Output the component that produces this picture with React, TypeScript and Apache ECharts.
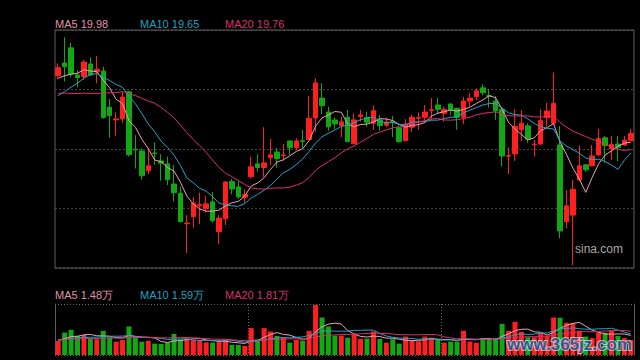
import React, { useEffect, useRef } from "react";
import * as echarts from "echarts";

// Daily candles: [open, close, low, high]
const ohlc: number[][] = [
  [21.92, 22.16, 21.81, 22.29], [22.30, 22.19, 21.74, 23.08], [22.76, 21.97, 21.87, 22.92],
  [21.94, 21.86, 21.57, 22.09], [21.89, 22.33, 21.79, 22.39], [22.27, 21.94, 21.91, 22.47],
  [22.03, 22.11, 21.69, 22.51], [22.06, 20.65, 20.62, 22.19], [20.96, 20.71, 20.04, 21.21],
  [20.58, 20.61, 20.10, 20.81], [20.61, 21.27, 20.49, 21.42], [21.43, 19.53, 19.47, 21.46],
  [19.69, 19.67, 19.11, 20.12], [19.64, 18.89, 18.77, 19.72], [19.04, 19.19, 18.94, 19.72],
  [19.58, 19.56, 19.22, 19.90], [19.34, 19.27, 18.74, 19.54], [19.25, 18.77, 18.61, 19.47],
  [18.64, 18.38, 18.11, 19.22], [18.36, 17.50, 17.48, 18.56], [17.44, 17.46, 16.55, 17.70],
  [17.65, 18.06, 17.32, 18.24], [17.98, 18.02, 17.43, 18.38], [17.89, 18.04, 17.79, 18.28],
  [18.10, 17.53, 17.47, 18.40], [17.20, 17.61, 16.83, 17.70], [17.59, 18.70, 17.40, 18.73],
  [18.72, 18.49, 18.33, 18.79], [18.55, 18.25, 18.19, 18.73], [18.24, 18.32, 18.06, 18.48],
  [18.86, 19.16, 18.81, 19.47], [19.25, 19.14, 19.01, 19.54], [19.14, 19.28, 18.86, 20.36],
  [19.44, 19.52, 19.22, 20.01], [19.61, 19.41, 19.13, 19.73], [19.50, 19.52, 19.35, 19.85],
  [19.94, 19.74, 19.52, 19.96], [19.74, 19.94, 19.67, 20.02], [19.95, 19.93, 19.72, 20.28],
  [19.99, 20.63, 19.97, 21.31], [20.64, 21.70, 20.22, 21.84], [21.24, 21.01, 20.76, 21.69],
  [20.82, 20.37, 20.25, 20.98], [20.58, 20.46, 20.30, 20.66], [20.41, 20.52, 20.06, 20.68],
  [20.66, 19.92, 19.91, 20.88], [19.86, 20.58, 19.85, 20.78], [20.68, 20.73, 20.53, 20.88],
  [20.65, 20.51, 20.38, 20.83], [20.48, 20.86, 20.28, 21.02], [20.58, 20.41, 20.25, 20.73],
  [20.42, 20.52, 20.36, 20.66], [20.53, 20.51, 20.06, 20.70], [20.34, 19.92, 19.89, 20.43],
  [19.95, 20.45, 19.94, 20.60], [20.36, 20.66, 20.21, 20.73], [20.63, 20.65, 20.28, 20.81],
  [20.66, 20.82, 20.53, 21.03], [20.87, 20.89, 20.58, 21.24], [21.03, 20.90, 20.76, 21.24],
  [20.78, 20.90, 20.53, 20.98], [21.06, 20.88, 20.73, 21.08], [20.93, 20.66, 20.28, 20.95],
  [20.66, 21.15, 20.45, 21.28], [21.15, 21.24, 20.98, 21.39], [21.28, 21.46, 21.18, 21.54],
  [21.55, 21.40, 21.33, 21.66], [21.31, 21.30, 20.95, 21.52], [21.15, 20.85, 20.58, 21.30],
  [20.90, 19.49, 19.17, 20.98], [19.48, 19.50, 18.94, 19.75], [19.55, 20.38, 19.34, 20.90],
  [20.28, 20.48, 19.94, 20.88], [20.40, 20.00, 19.89, 20.48], [19.83, 19.85, 19.47, 19.97],
  [19.85, 20.56, 19.84, 20.90], [20.65, 20.85, 20.38, 21.10], [20.48, 21.08, 20.47, 22.02],
  [19.82, 17.22, 17.00, 20.40], [17.50, 17.98, 17.30, 18.46], [17.70, 18.48, 16.19, 18.76],
  [18.76, 19.19, 18.75, 19.80], [19.22, 19.07, 19.01, 19.23], [19.19, 19.49, 19.17, 19.82],
  [19.52, 20.02, 19.50, 20.31], [20.04, 19.80, 19.29, 20.09], [19.70, 19.84, 19.37, 20.09],
  [19.85, 19.75, 19.32, 20.09], [19.82, 19.97, 19.79, 20.09], [19.95, 20.17, 19.94, 20.31],
];

// Volume, in 万 shares
const volumes: number[] = [
  1.06, 1.69, 1.90, 1.44, 1.52, 1.21, 1.19, 1.82, 1.34, 1.01,
  1.14, 2.15, 1.34, 1.01, 1.06, 0.86, 0.83, 0.96, 1.59, 1.19,
  1.24, 1.14, 1.14, 0.96, 0.93, 1.01, 1.14, 0.76, 0.76, 0.68,
  2.03, 1.19, 2.03, 1.77, 1.44, 1.34, 0.93, 1.14, 1.09, 1.82,
  3.77, 2.83, 2.15, 1.46, 1.46, 1.31, 1.57, 1.21, 1.24, 1.77,
  1.21, 0.93, 1.19, 0.86, 1.39, 1.06, 1.04, 1.39, 1.31, 1.19,
  0.93, 1.01, 1.01, 1.82, 1.01, 0.93, 1.29, 1.19, 1.29, 2.35,
  1.82, 2.50, 1.75, 1.34, 1.34, 1.65, 1.44, 2.83, 2.81, 2.43,
  2.41, 1.84, 1.39, 1.27, 1.69, 1.69, 1.84, 1.44, 1.27, 1.14,
];

// Sessions before the visible window (estimated from where the MA lines start)
const priorCloses: number[] = [
  22.09, 22.15, 22.03, 21.94, 22.21, 22.03, 20.58, 20.46, 20.52, 20.58,
  20.97, 20.62, 20.64, 20.79, 20.91, 21.80, 21.76, 21.71, 21.78,
];
const priorVolumes: number[] = [
  1.2, 1.0, 1.3, 1.1, 0.9, 1.2, 1.4, 1.1, 1.0, 1.3,
  1.2, 1.1, 0.9, 1.3, 1.0, 1.2, 1.1, 1.3, 1.0,
];

const maPeriods = [5, 10, 20];
const priceMALabels = ["19.98", "19.65", "19.76"];
const volumeMALabels = ["1.48万", "1.59万", "1.81万"];
const monthStarts = [30, 60];

const UP = "#ff1f1f";
const DOWN = "#12a812";
const MA_COLORS = ["#eaa0b6", "#1ea5c8", "#dc2f6c"];
const LABEL_COLORS = ["#e090a8", "#1ea0c2", "#d8306a"];

function movingAverage(values: number[], prior: number[], n: number): number[] {
  const all = prior.concat(values);
  const off = prior.length;
  return values.map((_, i) => {
    let s = 0;
    for (let k = 0; k < n; k++) s += all[off + i - k];
    return +(s / n).toFixed(3);
  });
}

export default function App() {
  const ref = useRef<HTMLDivElement>(null);

  useEffect(() => {
    document.body.style.margin = "0";
    document.body.style.background = "#000";
    if (!ref.current) return;
    const chart = echarts.init(ref.current, undefined, { renderer: "svg" });

    const categories = ohlc.map((_, i) => String(i + 1));
    const closes = ohlc.map((d) => d[1]);
    const priceMAs = maPeriods.map((n) => movingAverage(closes, priorCloses, n));
    const volMAs = maPeriods.map((n) => movingAverage(volumes, priorVolumes, n));
    const volData = volumes.map((v, i) => ({
      value: v,
      itemStyle: { color: ohlc[i][1] >= ohlc[i][0] ? UP : DOWN },
    }));

    const font = "Liberation Sans, Arial, sans-serif";
    const labelTexts: any[] = [];
    const xs = [55, 140, 225];
    maPeriods.forEach((n, k) => {
      labelTexts.push({
        type: "text", x: xs[k], y: 24,
        style: { text: `MA${n} ${priceMALabels[k]}`, fill: LABEL_COLORS[k], font: `11px ${font}`, verticalAlign: "middle" },
      });
      labelTexts.push({
        type: "text", x: xs[k], y: 295,
        style: { text: `MA${n} ${volumeMALabels[k]}`, fill: LABEL_COLORS[k], font: `11px ${font}`, verticalAlign: "middle" },
      });
    });

    const option: any = {
      animation: false,
      backgroundColor: "#000",
      grid: [
        { left: 55, right: 6, top: 30, height: 238, show: true, borderColor: "#5e5e5e", borderWidth: 1, backgroundColor: "transparent", z: 10 },
        { left: 55, right: 6, top: 304, height: 51 },
      ],
      xAxis: [
        {
          type: "category", gridIndex: 0, data: categories, boundaryGap: true,
          axisLine: { show: false }, axisTick: { show: false }, axisLabel: { show: false }, splitLine: { show: false },
        },
        {
          type: "category", gridIndex: 1, data: categories, boundaryGap: true,
          axisLine: { show: false }, axisTick: { show: false }, axisLabel: { show: false },
          splitLine: {
            show: true,
            interval: (i: number) => monthStarts.indexOf(i) >= 0,
            lineStyle: { color: "#6a6a6a", type: [1, 2] },
          },
        },
      ],
      yAxis: [
        {
          type: "value", gridIndex: 0, min: 16.1, max: 23.3, interval: 1.8, scale: true,
          axisLine: { show: false }, axisTick: { show: false }, axisLabel: { show: false },
          splitLine: { show: true, lineStyle: { color: "#444", type: [2, 2] } },
        },
        {
          type: "value", gridIndex: 1, min: 0, max: 3.85, interval: 3.85,
          axisLine: { show: true, lineStyle: { color: "#5e5e5e" } }, axisTick: { show: false }, axisLabel: { show: false },
          splitLine: { show: true, lineStyle: { color: "#6a6a6a", type: [1, 2] } },
        },
        {
          type: "value", gridIndex: 1, position: "right", min: 0, max: 3.85,
          axisLine: { show: true, lineStyle: { color: "#5e5e5e" } }, axisTick: { show: false }, axisLabel: { show: false },
          splitLine: { show: false },
        },
      ],
      series: [
        {
          type: "candlestick", xAxisIndex: 0, yAxisIndex: 0, data: ohlc, barWidth: 5,
          itemStyle: { color: UP, color0: DOWN, borderColor: UP, borderColor0: DOWN, borderWidth: 1 },
        },
        ...priceMAs.map((d, k) => ({
          type: "line", xAxisIndex: 0, yAxisIndex: 0, data: d, symbol: "none", showSymbol: false,
          lineStyle: { color: MA_COLORS[k], width: 1 }, z: 3,
        })),
        {
          type: "bar", xAxisIndex: 1, yAxisIndex: 1, data: volData, barWidth: 5,
        },
        ...volMAs.map((d, k) => ({
          type: "line", xAxisIndex: 1, yAxisIndex: 1, data: d, symbol: "none", showSymbol: false,
          lineStyle: { color: MA_COLORS[k], width: 1 }, z: 3,
        })),
      ],
      graphic: [
        ...labelTexts,
        {
          type: "text", right: 17, top: 243,
          style: { text: "sina.com", fill: "#a8a8a8", font: `12px ${font}` },
        },
        {
          type: "text", right: 7, top: 335, z: 100,
          style: {
            text: "www.365jz.com", fill: "#1d4e8f", font: `bold 17px ${font}`,
            stroke: "rgba(235,240,250,0.75)", lineWidth: 2, opacity: 0.9,
          },
        },
      ],
    };

    chart.setOption(option);
    return () => chart.dispose();
  }, []);

  return <div ref={ref} style={{ width: 640, height: 360, background: "#000" }} />;
}
